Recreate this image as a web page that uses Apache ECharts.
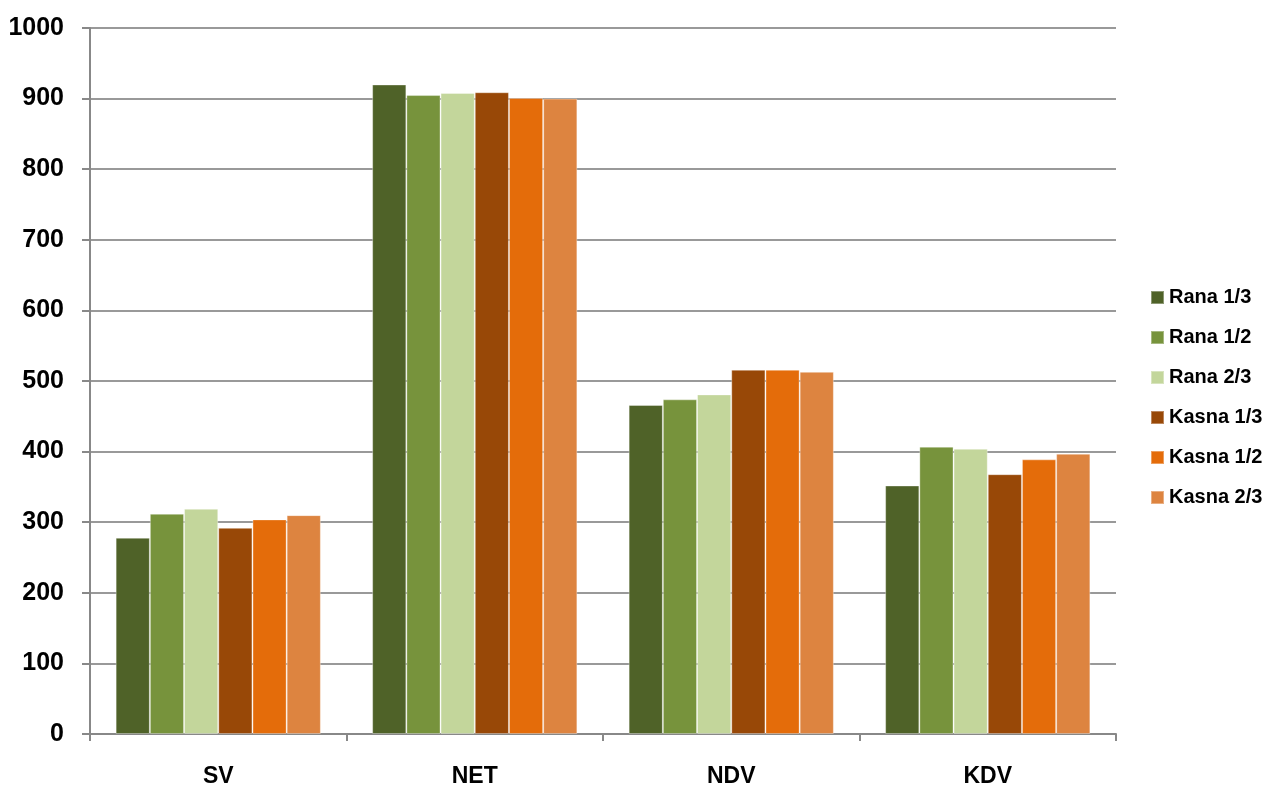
<!DOCTYPE html>
<html><head><meta charset="utf-8">
<script src="https://cdn.jsdelivr.net/npm/echarts@6/dist/echarts.min.js"></script>
<style>html,body{margin:0;padding:0;background:#fff}#c{width:1266px;height:788px}</style>
</head><body><div id="c"></div>
<script>
const categories = ['SV', 'NET', 'NDV', 'KDV'];
const seriesNames = ['Rana 1/3', 'Rana 1/2', 'Rana 2/3', 'Kasna 1/3', 'Kasna 1/2', 'Kasna 2/3'];
const rana13 = [278, 920, 466, 352];
const rana12 = [312, 905, 474, 407];
const rana23 = [319, 908, 481, 404];
const kasna13 = [292, 909, 516, 368];
const kasna12 = [304, 901, 516, 389];
const kasna23 = [310, 900, 513, 397];
const yTicks = [0, 100, 200, 300, 400, 500, 600, 700, 800, 900, 1000];
const colors = ['#4F6228', '#77933C', '#C3D69B', '#984807', '#E46C0A', '#DD8440'];
const values = [rana13, rana12, rana23, kasna13, kasna12, kasna23];
const font = '"Liberation Sans", Arial, sans-serif';

const chart = echarts.init(document.getElementById('c'));
chart.setOption({
  animation: false,
  color: colors,
  grid: { left: 90, right: 150, top: 28, bottom: 54, containLabel: false },
  legend: {
    orient: 'vertical', left: 1150, top: 287, padding: 0,
    itemWidth: 13, itemHeight: 13, itemGap: 19, icon: 'rect',
    textStyle: { fontFamily: font, fontWeight: 'bold', fontSize: 20, lineHeight: 21, color: '#000', padding: [0, 0, 0, 0] },
    data: seriesNames
  },
  xAxis: {
    type: 'category', data: categories,
    axisLine: { lineStyle: { color: '#888', width: 2 } },
    axisTick: { show: true, length: 7, lineStyle: { color: '#888', width: 2 } },
    axisLabel: { fontFamily: font, fontWeight: 'bold', fontSize: 23, color: '#000', margin: 31 }
  },
  yAxis: {
    type: 'value', min: yTicks[0], max: yTicks[yTicks.length - 1], interval: 100,
    axisLine: { show: true, lineStyle: { color: '#888', width: 2 } },
    axisTick: { show: true, length: 8, lineStyle: { color: '#888', width: 2 } },
    splitLine: { lineStyle: { color: '#999', width: 2 } },
    axisLabel: { fontFamily: font, fontWeight: 'bold', fontSize: 25, color: '#000', margin: 26,
      formatter: v => String(v) }
  },
  series: seriesNames.map((n, i) => ({
    name: n, type: 'bar', data: values[i],
    barGap: '0%', barCategoryGap: '20%',
    itemStyle: { color: colors[i], borderColor: 'rgba(255,255,255,0.35)', borderWidth: 1 }
  }))
});
</script></body></html>
